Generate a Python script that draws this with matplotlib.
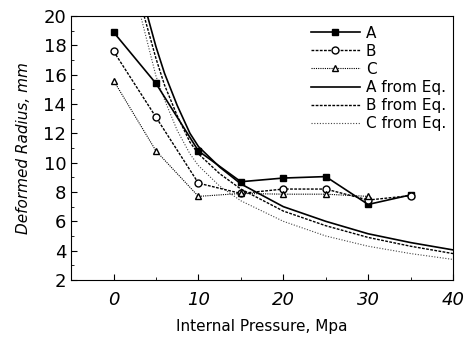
import matplotlib
matplotlib.use("Agg")
import matplotlib.pyplot as plt
from matplotlib.ticker import MultipleLocator

plt.rcParams['font.family'] = ['DejaVu Sans']

# Measured data
p_a = [0, 5, 10, 15, 20, 25, 30, 35]
r_a = [18.9, 15.4, 10.8, 8.7, 8.95, 9.05, 7.15, 7.8]
p_b = [0, 5, 10, 15, 20, 25, 30, 35]
r_b = [17.6, 13.1, 8.6, 7.9, 8.2, 8.2, 7.45, 7.75]
p_c = [0, 5, 10, 15, 20, 25, 30]
r_c = [15.6, 10.8, 7.7, 7.9, 7.85, 7.85, 7.7]

# Curves
pe_a = [4.0, 5, 6, 7.5, 9, 10, 12.5, 15, 20, 25, 30, 35, 40]
re_a = [20, 17.9, 16.1, 13.9, 12.0, 11.1, 9.7, 8.55, 7.0, 6.0, 5.15, 4.55, 4.05]
pe_b = [3.6, 5, 6, 7.5, 9, 10, 12.5, 15, 20, 25, 30, 35, 40]
re_b = [20, 17.1, 15.3, 13.2, 11.4, 10.6, 9.25, 8.2, 6.7, 5.7, 4.9, 4.3, 3.8]
pe_c = [3.2, 5, 6, 7.5, 9, 10, 12.5, 15, 20, 25, 30, 35, 40]
re_c = [20, 15.9, 14.3, 12.2, 10.6, 9.8, 8.4, 7.4, 6.0, 5.0, 4.3, 3.8, 3.4]

fig = plt.figure(figsize=(4.68, 3.41), dpi=100)
ax = fig.add_axes([0.152, 0.179, 0.816, 0.774])

ax.plot(p_a, r_a, color='black', lw=1.2, marker='s', ms=5, label='A', zorder=3)
ax.plot(p_b, r_b, color='black', lw=1.0, ls=(0, (2, 1)), marker='o', ms=5,
        mfc='white', label='B', zorder=4)
ax.plot(p_c, r_c, color='black', lw=0.8, ls=(0, (1, 1)), marker='^', ms=5,
        mfc='white', label='C', zorder=4)
ax.plot(pe_a, re_a, color='black', lw=1.2, label='A from Eq.')
ax.plot(pe_b, re_b, color='black', lw=1.0, ls=(0, (2, 1)), label='B from Eq.')
ax.plot(pe_c, re_c, color='#444444', lw=0.8, ls=(0, (1, 1.5)), label='C from Eq.')

ax.set_xlim(-5, 40)
ax.set_ylim(2, 20)
ax.xaxis.set_major_locator(MultipleLocator(10))
ax.xaxis.set_minor_locator(MultipleLocator(5))
ax.yaxis.set_major_locator(MultipleLocator(2))
ax.yaxis.set_minor_locator(MultipleLocator(1))
ax.tick_params(which='both', direction='in', labelsize=13)
ax.tick_params(which='major', length=4)
ax.tick_params(which='minor', length=2)
ax.tick_params(axis='x', pad=8)
for lbl in ax.get_xticklabels():
    lbl.set_style('italic')

ax.set_xlabel('Internal Pressure, Mpa', fontsize=11, labelpad=7)
ax.set_ylabel('Deformed Radius, mm', fontsize=11, style='italic', labelpad=9)

ax.legend(loc='upper right', bbox_to_anchor=(0.99, 0.975), frameon=False,
          fontsize=11, handlelength=3.2, labelspacing=0.2, handletextpad=0.4,
          borderpad=0.2, borderaxespad=0)

fig.savefig('out.png', dpi=100)
